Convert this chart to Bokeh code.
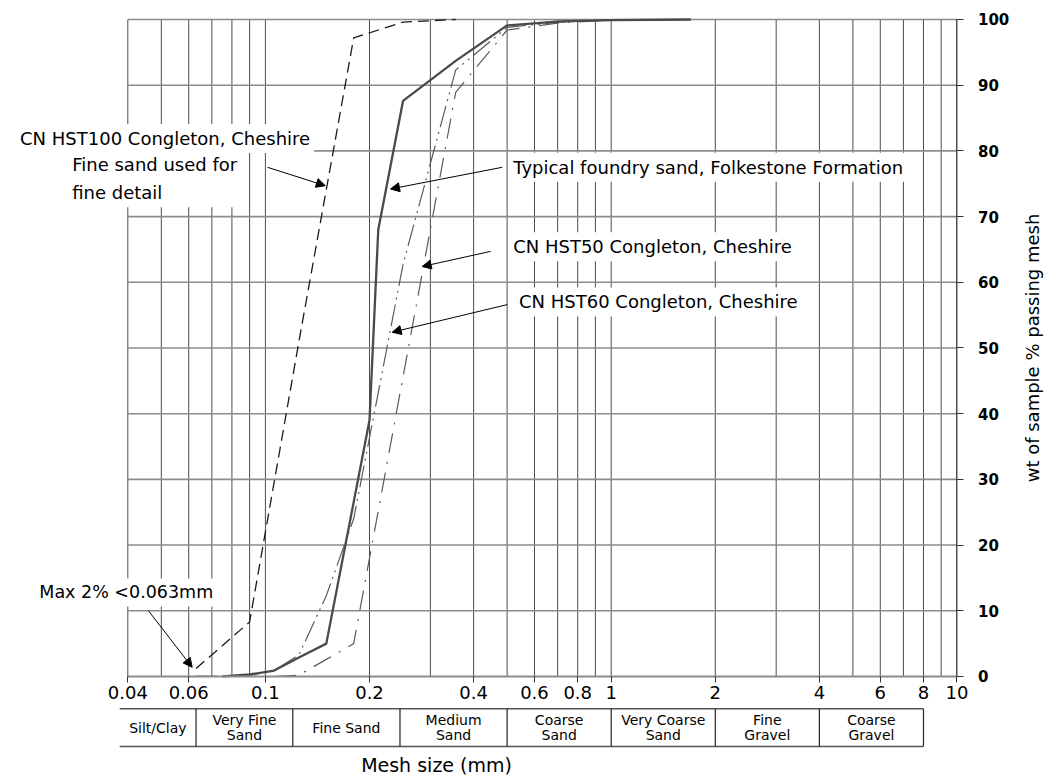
from bokeh.plotting import figure
from bokeh.models import (Range1d, LogAxis, LinearAxis, FixedTicker, Label,
                          Arrow, NormalHead)
from bokeh.embed import file_html
from bokeh.resources import INLINE
from bokeh.core.properties import value
import math

# ---------------- data ----------------
x_tick_values = [0.04, 0.06, 0.1, 0.2, 0.4, 0.6, 0.8, 1, 2, 4, 6, 8, 10]
x_tick_labels = ["0.04", "0.06", "0.1", "0.2", "0.4", "0.6", "0.8", "1", "2",
                 "4", "6", "8", "10"]
y_tick_values = [0, 10, 20, 30, 40, 50, 60, 70, 80, 90, 100]

x_grid = [0.04, 0.05, 0.06, 0.07, 0.08, 0.09,
          0.1, 0.2, 0.3, 0.4, 0.5, 0.6, 0.7, 0.8, 0.9,
          1, 2, 3, 4, 5, 6, 7, 8, 9, 10]
y_grid = [10, 20, 30, 40, 50, 60, 70, 80, 90, 100]

# cumulative % passing per sieve size (mm)
foundry_mm = [0.075, 0.09, 0.106, 0.125, 0.15, 0.2, 0.212, 0.25, 0.355, 0.5, 0.71, 1.0, 1.7]
foundry_pct = [0, 0.3, 0.9, 2.9, 5.0, 39, 68, 87.6, 93.7, 99.1, 99.7, 99.9, 100]

hst100_mm = [0.063, 0.09, 0.125, 0.18, 0.25, 0.355]
hst100_pct = [1.2, 8.3, 51, 97.2, 99.6, 100]

hst60_mm = [0.063, 0.075, 0.09, 0.106, 0.125, 0.15, 0.18, 0.212, 0.25, 0.355, 0.5, 0.71, 1.0, 1.7]
hst60_pct = [0, 0, 0.2, 0.9, 3.3, 12.3, 24.0, 43.2, 62.7, 92.3, 98.8, 99.6, 99.9, 100]

hst50_mm = [0.063, 0.09, 0.106, 0.125, 0.15, 0.18, 0.212, 0.25, 0.355, 0.5, 0.71, 1.0, 1.7]
hst50_pct = [0, 0, 0, 0.2, 2.6, 5.0, 25.2, 45.6, 88.9, 98.4, 99.5, 99.9, 100]

class_names = ["Silt/Clay", "Very Fine\nSand", "Fine Sand", "Medium\nSand",
               "Coarse\nSand", "Very Coarse\nSand", "Fine\nGravel", "Coarse\nGravel"]
class_edges = [0.0379, 0.063, 0.12, 0.245, 0.5, 1, 2, 4, 8]

FONT = "DejaVu Sans"

# ---------------- figure ----------------
p = figure(width=1046, height=778, x_axis_type="log",
           x_range=Range1d(0.017134, 18.15), y_range=Range1d(-15.53, 102.89),
           x_axis_location=None, y_axis_location=None,
           toolbar_location=None, output_backend="svg", min_border=0,
           outline_line_color=None)
p.grid.visible = False
p.background_fill_color = "white"

# grid
p.segment(x0=x_grid, y0=0, x1=x_grid, y1=100, line_color="#4d4d4d", line_width=1)
p.segment(x0=0.04, y0=y_grid, x1=10, y1=y_grid, line_color="#8c8c8c", line_width=1.6)

# axes sitting on the chart frame
xaxis = LogAxis(fixed_location=0, bounds=(0.04, 10),
                ticker=FixedTicker(ticks=x_tick_values),
                major_label_overrides=dict(zip(x_tick_values, x_tick_labels)),
                axis_line_color="#8c8c8c", axis_line_width=2,
                major_tick_out=6, major_tick_in=0, minor_tick_out=0, minor_tick_in=0,
                major_tick_line_color="#333333",
                major_label_text_font=FONT, major_label_text_font_size="18px",
                major_label_text_color="black", major_label_standoff=4)
p.add_layout(xaxis, "below")

yaxis = LinearAxis(fixed_location=10, bounds=(0, 100),
                   ticker=FixedTicker(ticks=y_tick_values),
                   axis_line_color="#4d4d4d", axis_line_width=1,
                   major_tick_out=7, major_tick_in=0, minor_tick_out=0, minor_tick_in=0,
                   major_tick_line_color="#333333",
                   major_label_text_font=FONT, major_label_text_font_size="15px",
                   major_label_text_font_style="bold",
                   major_label_text_color="black", major_label_standoff=14)
p.add_layout(yaxis, "right")

p.text(x=[16.5], y=[50], text=["wt of sample % passing mesh"], angle=math.pi / 2,
       text_align="center", text_baseline="middle", text_font=value(FONT),
       text_font_size="18px", text_color="black")

# grading curves
p.line(hst100_mm, hst100_pct, line_color="#1a1a1a", line_width=1.3, line_dash="11 6")
p.line(hst60_mm, hst60_pct, line_color="#5a5a5a", line_width=1.2, line_dash="22 5 2 5 2 5")
p.line(hst50_mm, hst50_pct, line_color="#5a5a5a", line_width=1.2, line_dash="20 9 2 9")
p.line(foundry_mm, foundry_pct, line_color="#4a4a4a", line_width=2.3)

# grain size classes table
top, bottom = -4.92, -10.65
p.segment(x0=class_edges[0], y0=[top, bottom], x1=class_edges[-1], y1=[top, bottom],
          line_color="#555555", line_width=1.5)
p.segment(x0=class_edges[1:], y0=top, x1=class_edges[1:], y1=bottom,
          line_color="#222222", line_width=1.2)
centres = [math.sqrt(a * b) for a, b in zip(class_edges[:-1], class_edges[1:])]
p.text(x=centres, y=(top + bottom) / 2, text=class_names, text_align="center",
       text_baseline="middle", text_font=value(FONT), text_font_size="14px",
       text_line_height=0.95, text_color="black")

p.text(x=[0.3125], y=[-13.5], text=["Mesh size (mm)"], text_align="center",
       text_baseline="middle", text_font=value(FONT), text_font_size="19px",
       text_color="black")

# annotations
def note(x, y, text, size="18px"):
    p.add_layout(Label(x=x, y=y, text=text, text_font=FONT, text_font_size=size,
                       text_baseline="middle", text_align="left", text_color="black",
                       text_line_height=1.35,
                       background_fill_color="white", padding=4))

note(0.0190, 81.9, "CN HST100 Congleton, Cheshire")
note(0.0269, 75.8, "Fine sand used for\nfine detail")
note(0.507, 77.5, "Typical foundry sand, Folkestone Formation")
note(0.507, 65.4, "CN HST50 Congleton, Cheshire")
note(0.527, 57.0, "CN HST60 Congleton, Cheshire")
note(0.0216, 12.8, "Max 2% <0.063mm", "17.5px")

def pointer(x0, y0, x1, y1):
    p.add_layout(Arrow(end=NormalHead(size=9, fill_color="black", line_color="black",
                                      line_width=1),
                       x_start=x0, y_start=y0, x_end=x1, y_end=y1,
                       line_color="black", line_width=1))

pointer(0.1014, 77.5, 0.149, 74.7)
pointer(0.484, 77.5, 0.23, 74.2)
pointer(0.4477, 64.7, 0.284, 62.4)
pointer(0.5003, 56.6, 0.2326, 52.4)
pointer(0.0459, 10.0, 0.0614, 1.4)

open("out.html", "w").write(file_html(p, INLINE))
